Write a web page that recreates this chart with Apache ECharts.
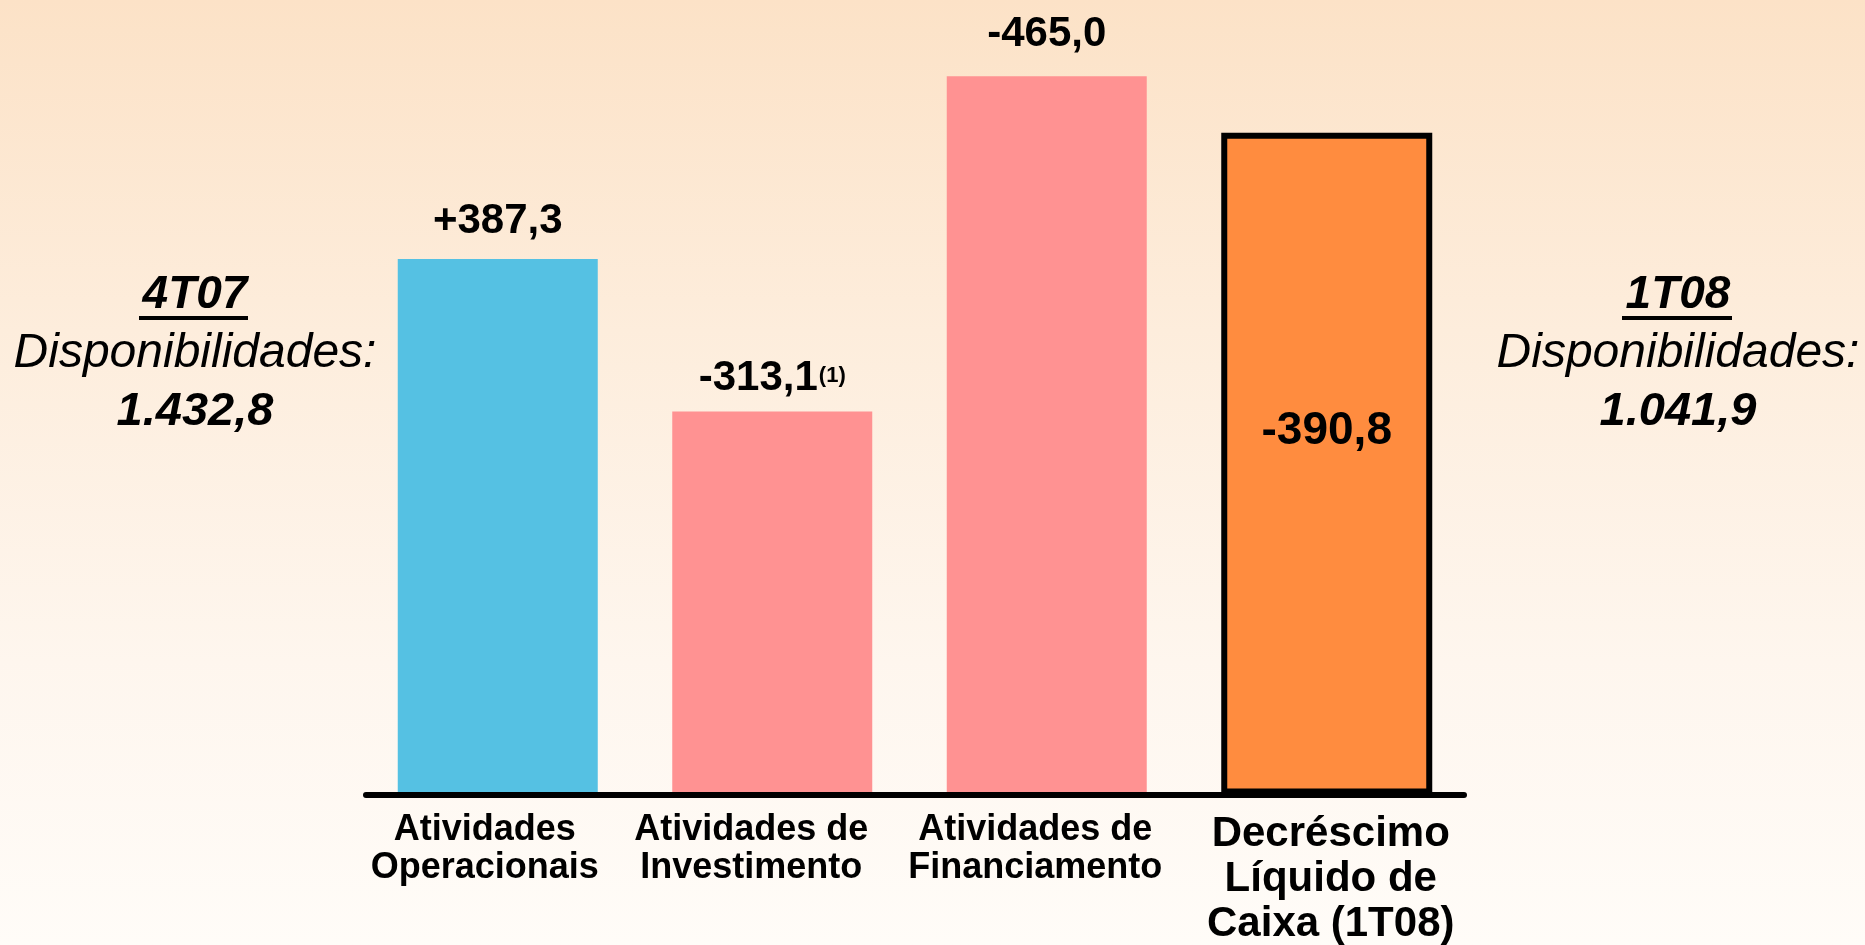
<!DOCTYPE html>
<html>
<head>
<meta charset="utf-8">
<script src="https://cdn.jsdelivr.net/npm/echarts@6/dist/echarts.min.js"></script>
<style>
  html, body { margin: 0; padding: 0; width: 1865px; height: 945px; overflow: hidden; }
  #chart { width: 1865px; height: 945px; }
</style>
</head>
<body>
<div id="chart"></div>
<script>
// ---- data ----
const categories = [
  'Atividades\nOperacionais',
  'Atividades de\nInvestimento',
  'Atividades de\nFinanciamento',
  'Decréscimo\nLíquido de\nCaixa (1T08)'
];
// schematic bar heights as drawn (percent of plot height)
const barHeights = [67.4, 48.2, 90.4, 83.3];
// value labels printed on the bars
const flowLabels = ['+387,3', '-313,1', '-465,0', '-390,8'];
const footnotes = ['', '(1)', '', ''];
const openingText = ['4T07', 'Disponibilidades:', '1.432,8'];
const closingText = ['1T08', 'Disponibilidades:', '1.041,9'];

// ---- styles ----
const FONT = '"Liberation Sans", Arial, Helvetica, sans-serif';
const barColors = ['#55C1E3', '#FF9292', '#FF9292', '#FF8C3F'];
const labelDistance = [17, 12, 21, 0];
const catPad = [[0, 37, 0, 0], [0, 53, 0, 0], [0, 34, 0, 0], [0, 0, 0, 8]];
const totalIndex = 3;

const chart = echarts.init(document.getElementById('chart'), null, { renderer: 'canvas' });

function barItem(i) {
  const isTotal = i === totalIndex;
  const lab = isTotal ? {
    show: true, position: 'inside', offset: [0, -32],
    formatter: '{m|' + flowLabels[i] + '}'
  } : {
    show: true, position: 'top', distance: labelDistance[i],
    formatter: '{m|' + flowLabels[i] + '}' + (footnotes[i] ? '{s|' + footnotes[i] + '}' : '')
  };
  lab.rich = {
    m: { fontFamily: FONT, fontWeight: 'bold', fontSize: isTotal ? 46 : 42, color: '#000' },
    s: { fontFamily: FONT, fontWeight: 'bold', fontSize: 22, color: '#000', padding: [0, 0, 6, 1] }
  };
  return {
    value: barHeights[i],
    itemStyle: isTotal ? { color: barColors[i], borderColor: '#000', borderWidth: 6 } : { color: barColors[i] },
    label: lab
  };
}

const flowData = categories.map((c, i) => i === totalIndex ? '-' : barItem(i));
const totalData = categories.map((c, i) => i === totalIndex ? barItem(i) : '-');

const catRich = {};
for (let i = 0; i < categories.length; i++) {
  const big = i === totalIndex;
  catRich['c' + i] = {
    fontFamily: FONT, fontWeight: 'bold', color: '#000',
    fontSize: big ? 42 : 36, lineHeight: big ? 45 : 38,
    padding: catPad[i], align: 'center'
  };
}

function sideText(lines, cx) {
  const ys = [295, 354, 412];
  const sizes = [46, 48, 47];
  return lines.map((t, k) => ({
    type: 'text', x: cx, y: ys[k], z: 10,
    style: {
      text: t, x: 0, y: 0, textAlign: 'center', textVerticalAlign: 'middle',
      align: 'center', verticalAlign: 'middle',
      font: (k === 1 ? 'italic normal ' : 'italic bold ') + sizes[k] + 'px ' + FONT,
      fill: '#000'
    }
  }));
}

const option = {
  backgroundColor: {
    type: 'linear', x: 0, y: 0, x2: 0, y2: 1,
    colorStops: [
      { offset: 0, color: '#FCE2C7' },
      { offset: 0.35, color: '#FDEDDC' },
      { offset: 0.7, color: '#FEF6EE' },
      { offset: 1, color: '#FFFCF8' }
    ]
  },
  animation: false,
  grid: { left: 366, right: 401, top: 0, bottom: 147, containLabel: false },
  xAxis: {
    type: 'category',
    data: categories,
    z: 5,
    axisLine: { show: true, lineStyle: { color: '#000', width: 6 } },
    axisTick: { show: false },
    splitLine: { show: false },
    axisLabel: {
      interval: 0, margin: 17, hideOverlap: false,
      formatter: function (v, idx) {
        return v.split('\n').map(l => '{c' + idx + '|' + l + '}').join('\n');
      },
      rich: catRich
    }
  },
  yAxis: { type: 'value', min: 0, max: 100, show: false, splitLine: { show: false } },
  series: [
    { type: 'bar', data: flowData, barWidth: 200, barGap: '-100%' },
    { type: 'bar', data: totalData, barWidth: 211, barGap: '-100%' }
  ],
  graphic: [].concat(
    sideText(openingText, 195),
    sideText(closingText, 1678),
    [
      { type: 'rect', shape: { x: 139, y: 316, width: 109, height: 4 }, style: { fill: '#000' }, z: 10 },
      { type: 'rect', shape: { x: 1622, y: 316, width: 110, height: 4 }, style: { fill: '#000' }, z: 10 }
    ]
  )
};

chart.setOption(option);
</script>
</body>
</html>
